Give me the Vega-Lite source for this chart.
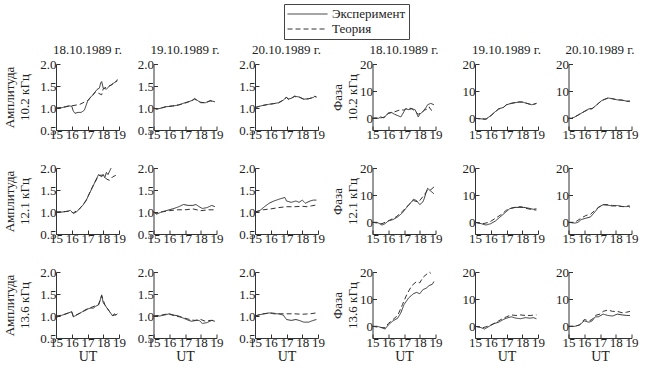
{
"$schema":"https://vega.github.io/schema/vega-lite/v6.json",
"background":"white",
"padding":{"left":3,"top":3,"right":2,"bottom":0},
"config":{
 "font":"Liberation Serif",
 "view":{"stroke":null},
 "axis":{"grid":false,"domainColor":"#333","tickColor":"#333","tickSize":-4,"labelFont":"Liberation Serif","titleFont":"Liberation Serif","labelFontSize":13,"labelColor":"#222","labelPadding":3,"labelOverlap":false,"labelFlush":false,"titleFontSize":13,"titleFontWeight":"normal","titleColor":"#222"},
 "axisY":{"minExtent":21,"labelPadding":4,"titlePadding":4},
 "axisX":{"labelPadding":2,"titlePadding":0,"titleFontSize":14},
 "title":{"font":"Liberation Serif","fontSize":13,"fontWeight":"normal","offset":1,"color":"#222"},
 "concat":{"spacing":6.5},
 "legend":{"strokeColor":"#444","padding":3,"symbolType":"stroke","symbolSize":1600,"clipHeight":14,"symbolStrokeColor":"#333","symbolStrokeWidth":1,"labelFont":"Liberation Serif","labelFontSize":13,"labelOffset":4,"rowPadding":1,"labelColor":"#222"},
 "line":{"strokeWidth":1,"color":"#333"}
},
"resolve":{"scale":{"strokeDash":"shared"},"legend":{"strokeDash":"shared"}},
"datasets":{
"a102_18":[
{"s":"Эксперимент","t":15,"v":1.0},{"s":"Эксперимент","t":15.2,"v":0.99},{"s":"Эксперимент","t":15.4,"v":1.01},{"s":"Эксперимент","t":15.6,"v":1.03},{"s":"Эксперимент","t":15.8,"v":1.05},{"s":"Эксперимент","t":16.0,"v":1.04},{"s":"Эксперимент","t":16.1,"v":0.93},{"s":"Эксперимент","t":16.2,"v":0.88},{"s":"Эксперимент","t":16.4,"v":0.9},{"s":"Эксперимент","t":16.6,"v":0.9},{"s":"Эксперимент","t":16.8,"v":0.95},{"s":"Эксперимент","t":16.9,"v":1.05},{"s":"Эксперимент","t":17.0,"v":1.15},{"s":"Эксперимент","t":17.2,"v":1.25},{"s":"Эксперимент","t":17.4,"v":1.32},{"s":"Эксперимент","t":17.6,"v":1.42},{"s":"Эксперимент","t":17.75,"v":1.45},{"s":"Эксперимент","t":17.85,"v":1.58},{"s":"Эксперимент","t":17.9,"v":1.6},{"s":"Эксперимент","t":18.0,"v":1.45},{"s":"Эксперимент","t":18.2,"v":1.43},{"s":"Эксперимент","t":18.4,"v":1.5},{"s":"Эксперимент","t":18.6,"v":1.55},{"s":"Эксперимент","t":18.8,"v":1.6},{"s":"Эксперимент","t":18.9,"v":1.65},
{"s":"Теория","t":15,"v":1.0},{"s":"Теория","t":15.5,"v":1.02},{"s":"Теория","t":16.0,"v":1.05},{"s":"Теория","t":16.5,"v":1.08},{"s":"Теория","t":17.0,"v":1.17},{"s":"Теория","t":17.3,"v":1.27},{"s":"Теория","t":17.5,"v":1.37},{"s":"Теория","t":17.9,"v":1.3},{"s":"Теория","t":18.0,"v":1.44},{"s":"Теория","t":18.5,"v":1.52},{"s":"Теория","t":18.9,"v":1.62}],
"a102_19":[
{"s":"Эксперимент","t":15,"v":1.0},{"s":"Эксперимент","t":15.2,"v":0.97},{"s":"Эксперимент","t":15.5,"v":1.0},{"s":"Эксперимент","t":15.8,"v":1.03},{"s":"Эксперимент","t":16.2,"v":1.04},{"s":"Эксперимент","t":16.6,"v":1.07},{"s":"Эксперимент","t":17.0,"v":1.12},{"s":"Эксперимент","t":17.3,"v":1.15},{"s":"Эксперимент","t":17.5,"v":1.18},{"s":"Эксперимент","t":17.6,"v":1.22},{"s":"Эксперимент","t":17.8,"v":1.17},{"s":"Эксперимент","t":18.0,"v":1.12},{"s":"Эксперимент","t":18.3,"v":1.12},{"s":"Эксперимент","t":18.6,"v":1.17},{"s":"Эксперимент","t":18.9,"v":1.14},
{"s":"Теория","t":15,"v":1.0},{"s":"Теория","t":15.2,"v":0.98},{"s":"Теория","t":15.5,"v":1.0},{"s":"Теория","t":15.8,"v":1.03},{"s":"Теория","t":16.2,"v":1.05},{"s":"Теория","t":16.6,"v":1.07},{"s":"Теория","t":17.0,"v":1.11},{"s":"Теория","t":17.3,"v":1.15},{"s":"Теория","t":17.5,"v":1.18},{"s":"Теория","t":17.6,"v":1.2},{"s":"Теория","t":17.8,"v":1.17},{"s":"Теория","t":18.0,"v":1.13},{"s":"Теория","t":18.3,"v":1.12},{"s":"Теория","t":18.6,"v":1.16},{"s":"Теория","t":18.9,"v":1.14}],
"a102_20":[
{"s":"Эксперимент","t":15,"v":1.0},{"s":"Эксперимент","t":15.1,"v":1.02},{"s":"Эксперимент","t":15.4,"v":1.05},{"s":"Эксперимент","t":15.8,"v":1.08},{"s":"Эксперимент","t":16.2,"v":1.1},{"s":"Эксперимент","t":16.5,"v":1.12},{"s":"Эксперимент","t":16.8,"v":1.18},{"s":"Эксперимент","t":17.0,"v":1.25},{"s":"Эксперимент","t":17.1,"v":1.2},{"s":"Эксперимент","t":17.3,"v":1.22},{"s":"Эксперимент","t":17.5,"v":1.27},{"s":"Эксперимент","t":17.8,"v":1.25},{"s":"Эксперимент","t":18.1,"v":1.2},{"s":"Эксперимент","t":18.4,"v":1.21},{"s":"Эксперимент","t":18.7,"v":1.24},{"s":"Эксперимент","t":18.8,"v":1.27},{"s":"Эксперимент","t":18.9,"v":1.25},
{"s":"Теория","t":15,"v":1.0},{"s":"Теория","t":15.1,"v":1.02},{"s":"Теория","t":15.4,"v":1.05},{"s":"Теория","t":15.8,"v":1.08},{"s":"Теория","t":16.2,"v":1.1},{"s":"Теория","t":16.5,"v":1.12},{"s":"Теория","t":16.8,"v":1.18},{"s":"Теория","t":17.0,"v":1.24},{"s":"Теория","t":17.1,"v":1.2},{"s":"Теория","t":17.3,"v":1.22},{"s":"Теория","t":17.5,"v":1.26},{"s":"Теория","t":17.8,"v":1.25},{"s":"Теория","t":18.1,"v":1.2},{"s":"Теория","t":18.4,"v":1.21},{"s":"Теория","t":18.7,"v":1.24},{"s":"Теория","t":18.8,"v":1.26},{"s":"Теория","t":18.9,"v":1.25}],
"a121_18":[
{"s":"Эксперимент","t":15,"v":1.0},{"s":"Эксперимент","t":15.4,"v":1.0},{"s":"Эксперимент","t":15.8,"v":1.02},{"s":"Эксперимент","t":15.9,"v":1.04},{"s":"Эксперимент","t":16.1,"v":0.97},{"s":"Эксперимент","t":16.3,"v":1.0},{"s":"Эксперимент","t":16.5,"v":1.08},{"s":"Эксперимент","t":16.7,"v":1.15},{"s":"Эксперимент","t":16.9,"v":1.25},{"s":"Эксперимент","t":17.1,"v":1.4},{"s":"Эксперимент","t":17.3,"v":1.55},{"s":"Эксперимент","t":17.5,"v":1.7},{"s":"Эксперимент","t":17.7,"v":1.85},{"s":"Эксперимент","t":17.9,"v":1.8},{"s":"Эксперимент","t":18.0,"v":1.85},{"s":"Эксперимент","t":18.1,"v":1.78},{"s":"Эксперимент","t":18.2,"v":1.9},{"s":"Эксперимент","t":18.3,"v":1.85},{"s":"Эксперимент","t":18.5,"v":2.0},
{"s":"Теория","t":15,"v":1.0},{"s":"Теория","t":15.4,"v":1.0},{"s":"Теория","t":15.8,"v":1.02},{"s":"Теория","t":16.1,"v":0.98},{"s":"Теория","t":16.5,"v":1.07},{"s":"Теория","t":16.9,"v":1.26},{"s":"Теория","t":17.3,"v":1.56},{"s":"Теория","t":17.7,"v":1.83},{"s":"Теория","t":18.0,"v":1.84},{"s":"Теория","t":18.2,"v":1.75},{"s":"Теория","t":18.4,"v":1.72},{"s":"Теория","t":18.6,"v":1.8},{"s":"Теория","t":18.9,"v":1.85}],
"a121_19":[
{"s":"Эксперимент","t":15,"v":1.0},{"s":"Эксперимент","t":15.2,"v":0.95},{"s":"Эксперимент","t":15.5,"v":1.0},{"s":"Эксперимент","t":15.7,"v":1.02},{"s":"Эксперимент","t":16.0,"v":1.05},{"s":"Эксперимент","t":16.3,"v":1.08},{"s":"Эксперимент","t":16.6,"v":1.12},{"s":"Эксперимент","t":16.9,"v":1.17},{"s":"Эксперимент","t":17.2,"v":1.15},{"s":"Эксперимент","t":17.5,"v":1.15},{"s":"Эксперимент","t":17.7,"v":1.17},{"s":"Эксперимент","t":17.9,"v":1.12},{"s":"Эксперимент","t":18.1,"v":1.08},{"s":"Эксперимент","t":18.4,"v":1.1},{"s":"Эксперимент","t":18.7,"v":1.15},{"s":"Эксперимент","t":18.9,"v":1.12},
{"s":"Теория","t":15,"v":1.0},{"s":"Теория","t":15.2,"v":0.97},{"s":"Теория","t":15.5,"v":1.0},{"s":"Теория","t":16.0,"v":1.03},{"s":"Теория","t":16.5,"v":1.05},{"s":"Теория","t":17.0,"v":1.05},{"s":"Теория","t":17.5,"v":1.07},{"s":"Теория","t":18.0,"v":1.03},{"s":"Теория","t":18.5,"v":1.05},{"s":"Теория","t":18.9,"v":1.05}],
"a121_20":[
{"s":"Эксперимент","t":15,"v":1.0},{"s":"Эксперимент","t":15.3,"v":1.03},{"s":"Эксперимент","t":15.6,"v":1.12},{"s":"Эксперимент","t":15.9,"v":1.2},{"s":"Эксперимент","t":16.2,"v":1.25},{"s":"Эксперимент","t":16.6,"v":1.3},{"s":"Эксперимент","t":16.9,"v":1.33},{"s":"Эксперимент","t":17.0,"v":1.25},{"s":"Эксперимент","t":17.3,"v":1.22},{"s":"Эксперимент","t":17.6,"v":1.25},{"s":"Эксперимент","t":17.8,"v":1.22},{"s":"Эксперимент","t":18.0,"v":1.27},{"s":"Эксперимент","t":18.2,"v":1.2},{"s":"Эксперимент","t":18.5,"v":1.25},{"s":"Эксперимент","t":18.7,"v":1.27},{"s":"Эксперимент","t":18.9,"v":1.27},
{"s":"Теория","t":15,"v":1.0},{"s":"Теория","t":15.5,"v":1.05},{"s":"Теория","t":16.0,"v":1.07},{"s":"Теория","t":16.5,"v":1.1},{"s":"Теория","t":17.0,"v":1.12},{"s":"Теория","t":17.5,"v":1.12},{"s":"Теория","t":18.0,"v":1.13},{"s":"Теория","t":18.3,"v":1.12},{"s":"Теория","t":18.6,"v":1.14},{"s":"Теория","t":18.9,"v":1.16}],
"a136_18":[
{"s":"Эксперимент","t":15,"v":1.0},{"s":"Эксперимент","t":15.1,"v":0.98},{"s":"Эксперимент","t":15.4,"v":1.02},{"s":"Эксперимент","t":15.8,"v":1.07},{"s":"Эксперимент","t":16.0,"v":1.1},{"s":"Эксперимент","t":16.1,"v":0.98},{"s":"Эксперимент","t":16.3,"v":1.02},{"s":"Эксперимент","t":16.6,"v":1.08},{"s":"Эксперимент","t":16.9,"v":1.15},{"s":"Эксперимент","t":17.2,"v":1.18},{"s":"Эксперимент","t":17.4,"v":1.18},{"s":"Эксперимент","t":17.5,"v":1.22},{"s":"Эксперимент","t":17.7,"v":1.25},{"s":"Эксперимент","t":17.8,"v":1.35},{"s":"Эксперимент","t":17.9,"v":1.48},{"s":"Эксперимент","t":18.0,"v":1.3},{"s":"Эксперимент","t":18.1,"v":1.25},{"s":"Эксперимент","t":18.2,"v":1.2},{"s":"Эксперимент","t":18.4,"v":1.1},{"s":"Эксперимент","t":18.5,"v":1.05},{"s":"Эксперимент","t":18.6,"v":1.0},{"s":"Эксперимент","t":18.7,"v":1.05},{"s":"Эксперимент","t":18.8,"v":1.02},{"s":"Эксперимент","t":18.9,"v":1.05},
{"s":"Теория","t":15,"v":1.0},{"s":"Теория","t":15.4,"v":1.02},{"s":"Теория","t":15.8,"v":1.07},{"s":"Теория","t":16.0,"v":1.09},{"s":"Теория","t":16.1,"v":0.99},{"s":"Теория","t":16.6,"v":1.08},{"s":"Теория","t":17.2,"v":1.19},{"s":"Теория","t":17.7,"v":1.26},{"s":"Теория","t":17.9,"v":1.46},{"s":"Теория","t":18.1,"v":1.26},{"s":"Теория","t":18.4,"v":1.1},{"s":"Теория","t":18.6,"v":1.01},{"s":"Теория","t":18.9,"v":1.04}],
"a136_19":[
{"s":"Эксперимент","t":15,"v":1.0},{"s":"Эксперимент","t":15.4,"v":1.0},{"s":"Эксперимент","t":15.8,"v":1.03},{"s":"Эксперимент","t":16.0,"v":1.05},{"s":"Эксперимент","t":16.3,"v":1.02},{"s":"Эксперимент","t":16.6,"v":1.0},{"s":"Эксперимент","t":16.9,"v":0.95},{"s":"Эксперимент","t":17.1,"v":0.92},{"s":"Эксперимент","t":17.4,"v":0.88},{"s":"Эксперимент","t":17.7,"v":0.9},{"s":"Эксперимент","t":17.9,"v":0.9},{"s":"Эксперимент","t":18.1,"v":0.83},{"s":"Эксперимент","t":18.4,"v":0.85},{"s":"Эксперимент","t":18.7,"v":0.9},{"s":"Эксперимент","t":18.9,"v":0.88},
{"s":"Теория","t":15,"v":1.0},{"s":"Теория","t":15.5,"v":1.02},{"s":"Теория","t":15.9,"v":1.05},{"s":"Теория","t":16.4,"v":1.0},{"s":"Теория","t":16.8,"v":0.97},{"s":"Теория","t":17.2,"v":0.93},{"s":"Теория","t":17.6,"v":0.9},{"s":"Теория","t":18.0,"v":0.92},{"s":"Теория","t":18.3,"v":0.88},{"s":"Теория","t":18.6,"v":0.9},{"s":"Теория","t":18.9,"v":0.9}],
"a136_20":[
{"s":"Эксперимент","t":15,"v":1.0},{"s":"Эксперимент","t":15.3,"v":1.03},{"s":"Эксперимент","t":15.6,"v":1.05},{"s":"Эксперимент","t":15.9,"v":1.07},{"s":"Эксперимент","t":16.2,"v":1.05},{"s":"Эксперимент","t":16.5,"v":1.05},{"s":"Эксперимент","t":16.8,"v":1.02},{"s":"Эксперимент","t":17.0,"v":0.92},{"s":"Эксперимент","t":17.3,"v":0.9},{"s":"Эксперимент","t":17.6,"v":0.92},{"s":"Эксперимент","t":17.8,"v":0.9},{"s":"Эксперимент","t":18.1,"v":0.86},{"s":"Эксперимент","t":18.4,"v":0.86},{"s":"Эксперимент","t":18.7,"v":0.9},{"s":"Эксперимент","t":18.9,"v":0.92},
{"s":"Теория","t":15,"v":1.0},{"s":"Теория","t":15.5,"v":1.05},{"s":"Теория","t":16.0,"v":1.07},{"s":"Теория","t":16.5,"v":1.05},{"s":"Теория","t":17.0,"v":1.05},{"s":"Теория","t":17.5,"v":1.05},{"s":"Теория","t":18.0,"v":1.04},{"s":"Теория","t":18.5,"v":1.05},{"s":"Теория","t":18.9,"v":1.07}],
"p102_18":[
{"s":"Эксперимент","t":15,"v":0},{"s":"Эксперимент","t":15.2,"v":0.2},{"s":"Эксперимент","t":15.4,"v":0},{"s":"Эксперимент","t":15.5,"v":0.5},{"s":"Эксперимент","t":15.7,"v":0.2},{"s":"Эксперимент","t":15.9,"v":1.2},{"s":"Эксперимент","t":16.0,"v":2.0},{"s":"Эксперимент","t":16.2,"v":2.2},{"s":"Эксперимент","t":16.4,"v":1.5},{"s":"Эксперимент","t":16.6,"v":1.0},{"s":"Эксперимент","t":16.8,"v":0.5},{"s":"Эксперимент","t":17.0,"v":2.5},{"s":"Эксперимент","t":17.1,"v":3.5},{"s":"Эксперимент","t":17.3,"v":3.2},{"s":"Эксперимент","t":17.5,"v":3.5},{"s":"Эксперимент","t":17.7,"v":3.2},{"s":"Эксперимент","t":17.8,"v":2.0},{"s":"Эксперимент","t":17.9,"v":0.5},{"s":"Эксперимент","t":18.0,"v":1.5},{"s":"Эксперимент","t":18.2,"v":2.5},{"s":"Эксперимент","t":18.4,"v":4.0},{"s":"Эксперимент","t":18.5,"v":5.0},{"s":"Эксперимент","t":18.7,"v":5.5},{"s":"Эксперимент","t":18.9,"v":5.0},
{"s":"Теория","t":15,"v":0},{"s":"Теория","t":15.4,"v":0},{"s":"Теория","t":15.8,"v":0.5},{"s":"Теория","t":16.0,"v":1.8},{"s":"Теория","t":16.3,"v":2.2},{"s":"Теория","t":16.8,"v":3.2},{"s":"Теория","t":17.0,"v":3.0},{"s":"Теория","t":17.2,"v":3.8},{"s":"Теория","t":17.5,"v":3.6},{"s":"Теория","t":17.7,"v":2.5},{"s":"Теория","t":17.9,"v":1.5},{"s":"Теория","t":18.1,"v":2.0},{"s":"Теория","t":18.3,"v":3.0},{"s":"Теория","t":18.5,"v":3.5},{"s":"Теория","t":18.6,"v":4.2},{"s":"Теория","t":18.7,"v":3.2},{"s":"Теория","t":18.8,"v":2.8}],
"p102_19":[
{"s":"Эксперимент","t":15,"v":0},{"s":"Эксперимент","t":15.4,"v":-0.2},{"s":"Эксперимент","t":15.7,"v":-0.3},{"s":"Эксперимент","t":16.0,"v":1},{"s":"Эксперимент","t":16.2,"v":2},{"s":"Эксперимент","t":16.5,"v":3.5},{"s":"Эксперимент","t":16.8,"v":4},{"s":"Эксперимент","t":17.0,"v":5},{"s":"Эксперимент","t":17.3,"v":5.5},{"s":"Эксперимент","t":17.6,"v":5.8},{"s":"Эксперимент","t":17.8,"v":6},{"s":"Эксперимент","t":18.0,"v":6},{"s":"Эксперимент","t":18.3,"v":5.5},{"s":"Эксперимент","t":18.6,"v":5},{"s":"Эксперимент","t":18.8,"v":5.3},{"s":"Эксперимент","t":18.9,"v":5.5},
{"s":"Теория","t":15,"v":0},{"s":"Теория","t":15.4,"v":-0.2},{"s":"Теория","t":15.7,"v":-0.3},{"s":"Теория","t":16.0,"v":0.9},{"s":"Теория","t":16.2,"v":2},{"s":"Теория","t":16.5,"v":3.4},{"s":"Теория","t":16.8,"v":4},{"s":"Теория","t":17.0,"v":5},{"s":"Теория","t":17.3,"v":5.5},{"s":"Теория","t":17.6,"v":5.9},{"s":"Теория","t":17.8,"v":6},{"s":"Теория","t":18.0,"v":6},{"s":"Теория","t":18.3,"v":5.5},{"s":"Теория","t":18.6,"v":5},{"s":"Теория","t":18.8,"v":5.3},{"s":"Теория","t":18.9,"v":5.5}],
"p102_20":[
{"s":"Эксперимент","t":15,"v":0},{"s":"Эксперимент","t":15.2,"v":0},{"s":"Эксперимент","t":15.4,"v":0.5},{"s":"Эксперимент","t":15.7,"v":1.5},{"s":"Эксперимент","t":16.0,"v":2.5},{"s":"Эксперимент","t":16.3,"v":3.5},{"s":"Эксперимент","t":16.5,"v":3.5},{"s":"Эксперимент","t":16.7,"v":4.5},{"s":"Эксперимент","t":16.9,"v":5.5},{"s":"Эксперимент","t":17.1,"v":6.5},{"s":"Эксперимент","t":17.3,"v":7},{"s":"Эксперимент","t":17.5,"v":7.5},{"s":"Эксперимент","t":17.8,"v":7.2},{"s":"Эксперимент","t":18.1,"v":6.8},{"s":"Эксперимент","t":18.4,"v":6.7},{"s":"Эксперимент","t":18.7,"v":6.3},{"s":"Эксперимент","t":18.9,"v":6.3},
{"s":"Теория","t":15,"v":0},{"s":"Теория","t":15.2,"v":0},{"s":"Теория","t":15.4,"v":0.5},{"s":"Теория","t":15.7,"v":1.5},{"s":"Теория","t":16.0,"v":2.5},{"s":"Теория","t":16.3,"v":3.4},{"s":"Теория","t":16.5,"v":3.6},{"s":"Теория","t":16.7,"v":4.5},{"s":"Теория","t":16.9,"v":5.5},{"s":"Теория","t":17.1,"v":6.5},{"s":"Теория","t":17.3,"v":7},{"s":"Теория","t":17.5,"v":7.4},{"s":"Теория","t":17.8,"v":7.2},{"s":"Теория","t":18.1,"v":6.8},{"s":"Теория","t":18.4,"v":6.7},{"s":"Теория","t":18.7,"v":6.3},{"s":"Теория","t":18.9,"v":6.3}],
"p121_18":[
{"s":"Эксперимент","t":15,"v":0},{"s":"Эксперимент","t":15.3,"v":0},{"s":"Эксперимент","t":15.6,"v":-1},{"s":"Эксперимент","t":15.8,"v":-0.5},{"s":"Эксперимент","t":16.0,"v":0.5},{"s":"Эксперимент","t":16.3,"v":1},{"s":"Эксперимент","t":16.6,"v":2},{"s":"Эксперимент","t":16.9,"v":3.5},{"s":"Эксперимент","t":17.1,"v":5},{"s":"Эксперимент","t":17.4,"v":7},{"s":"Эксперимент","t":17.6,"v":8.5},{"s":"Эксперимент","t":17.8,"v":8},{"s":"Эксперимент","t":18.0,"v":6.5},{"s":"Эксперимент","t":18.2,"v":7.5},{"s":"Эксперимент","t":18.3,"v":9},{"s":"Эксперимент","t":18.4,"v":11},{"s":"Эксперимент","t":18.5,"v":12.5},{"s":"Эксперимент","t":18.7,"v":11.5},{"s":"Эксперимент","t":18.9,"v":10.5},
{"s":"Теория","t":15,"v":0},{"s":"Теория","t":15.6,"v":-0.5},{"s":"Теория","t":16.0,"v":0.5},{"s":"Теория","t":16.5,"v":2},{"s":"Теория","t":16.9,"v":4},{"s":"Теория","t":17.3,"v":6.5},{"s":"Теория","t":17.6,"v":8},{"s":"Теория","t":17.9,"v":7.5},{"s":"Теория","t":18.0,"v":8},{"s":"Теория","t":18.2,"v":9.5},{"s":"Теория","t":18.4,"v":11},{"s":"Теория","t":18.5,"v":12},{"s":"Теория","t":18.7,"v":12},{"s":"Теория","t":18.9,"v":13}],
"p121_19":[
{"s":"Эксперимент","t":15,"v":0},{"s":"Эксперимент","t":15.4,"v":-0.5},{"s":"Эксперимент","t":15.7,"v":-1},{"s":"Эксперимент","t":16.0,"v":-0.5},{"s":"Эксперимент","t":16.3,"v":0.5},{"s":"Эксперимент","t":16.6,"v":2},{"s":"Эксперимент","t":16.9,"v":3.5},{"s":"Эксперимент","t":17.2,"v":5},{"s":"Эксперимент","t":17.5,"v":5.5},{"s":"Эксперимент","t":17.8,"v":5.5},{"s":"Эксперимент","t":18.1,"v":5.5},{"s":"Эксперимент","t":18.4,"v":5.2},{"s":"Эксперимент","t":18.7,"v":4.8},{"s":"Эксперимент","t":18.9,"v":5},
{"s":"Теория","t":15,"v":0},{"s":"Теория","t":15.5,"v":-0.5},{"s":"Теория","t":15.9,"v":0},{"s":"Теория","t":16.3,"v":1.5},{"s":"Теория","t":16.7,"v":3},{"s":"Теория","t":17.0,"v":4.5},{"s":"Теория","t":17.3,"v":5.2},{"s":"Теория","t":17.6,"v":5.5},{"s":"Теория","t":17.9,"v":5.8},{"s":"Теория","t":18.2,"v":5.2},{"s":"Теория","t":18.5,"v":4.8},{"s":"Теория","t":18.9,"v":4.5}],
"p121_20":[
{"s":"Эксперимент","t":15,"v":0},{"s":"Эксперимент","t":15.4,"v":-0.3},{"s":"Эксперимент","t":15.6,"v":0},{"s":"Эксперимент","t":15.8,"v":1},{"s":"Эксперимент","t":16.1,"v":1.5},{"s":"Эксперимент","t":16.4,"v":2},{"s":"Эксперимент","t":16.7,"v":4},{"s":"Эксперимент","t":16.9,"v":5.5},{"s":"Эксперимент","t":17.2,"v":6.5},{"s":"Эксперимент","t":17.5,"v":6.3},{"s":"Эксперимент","t":17.8,"v":6},{"s":"Эксперимент","t":18.1,"v":6.2},{"s":"Эксперимент","t":18.4,"v":5.8},{"s":"Эксперимент","t":18.7,"v":5.8},{"s":"Эксперимент","t":18.8,"v":6},{"s":"Эксперимент","t":18.9,"v":5.5},
{"s":"Теория","t":15,"v":0},{"s":"Теория","t":15.4,"v":0},{"s":"Теория","t":15.8,"v":1.5},{"s":"Теория","t":16.1,"v":2.5},{"s":"Теория","t":16.4,"v":3},{"s":"Теория","t":16.7,"v":4.5},{"s":"Теория","t":16.9,"v":5.5},{"s":"Теория","t":17.2,"v":6.5},{"s":"Теория","t":17.5,"v":6.5},{"s":"Теория","t":17.8,"v":6.2},{"s":"Теория","t":18.1,"v":6},{"s":"Теория","t":18.5,"v":5.8},{"s":"Теория","t":18.9,"v":6}],
"p136_18":[
{"s":"Эксперимент","t":15,"v":0},{"s":"Эксперимент","t":15.3,"v":0},{"s":"Эксперимент","t":15.6,"v":-0.5},{"s":"Эксперимент","t":15.8,"v":-1},{"s":"Эксперимент","t":16.0,"v":0.5},{"s":"Эксперимент","t":16.3,"v":2},{"s":"Эксперимент","t":16.6,"v":3},{"s":"Эксперимент","t":16.8,"v":5},{"s":"Эксперимент","t":17.0,"v":8},{"s":"Эксперимент","t":17.3,"v":10.5},{"s":"Эксперимент","t":17.6,"v":12},{"s":"Эксперимент","t":17.8,"v":12.5},{"s":"Эксперимент","t":18.0,"v":12},{"s":"Эксперимент","t":18.2,"v":13.5},{"s":"Эксперимент","t":18.4,"v":14},{"s":"Эксперимент","t":18.6,"v":15},{"s":"Эксперимент","t":18.8,"v":15.5},{"s":"Эксперимент","t":18.9,"v":16.5},
{"s":"Теория","t":15,"v":0},{"s":"Теория","t":15.6,"v":-0.5},{"s":"Теория","t":15.8,"v":-0.5},{"s":"Теория","t":16.0,"v":1},{"s":"Теория","t":16.3,"v":2.5},{"s":"Теория","t":16.6,"v":4},{"s":"Теория","t":16.9,"v":8},{"s":"Теория","t":17.2,"v":12},{"s":"Теория","t":17.5,"v":15},{"s":"Теория","t":17.8,"v":16.5},{"s":"Теория","t":18.0,"v":16},{"s":"Теория","t":18.2,"v":18},{"s":"Теория","t":18.4,"v":19},{"s":"Теория","t":18.6,"v":20},{"s":"Теория","t":18.7,"v":19.5}],
"p136_19":[
{"s":"Эксперимент","t":15,"v":0},{"s":"Эксперимент","t":15.3,"v":-0.3},{"s":"Эксперимент","t":15.6,"v":-1},{"s":"Эксперимент","t":15.9,"v":0},{"s":"Эксперимент","t":16.2,"v":1},{"s":"Эксперимент","t":16.5,"v":1.5},{"s":"Эксперимент","t":16.8,"v":2.5},{"s":"Эксперимент","t":17.0,"v":3},{"s":"Эксперимент","t":17.3,"v":3.5},{"s":"Эксперимент","t":17.6,"v":3},{"s":"Эксперимент","t":17.9,"v":2.8},{"s":"Эксперимент","t":18.2,"v":3.2},{"s":"Эксперимент","t":18.5,"v":3},{"s":"Эксперимент","t":18.7,"v":3.2},{"s":"Эксперимент","t":18.9,"v":2.8},
{"s":"Теория","t":15,"v":0},{"s":"Теория","t":15.5,"v":-0.5},{"s":"Теория","t":15.8,"v":0},{"s":"Теория","t":16.2,"v":1},{"s":"Теория","t":16.5,"v":2},{"s":"Теория","t":16.8,"v":3},{"s":"Теория","t":17.0,"v":3.5},{"s":"Теория","t":17.3,"v":4.2},{"s":"Теория","t":17.6,"v":4},{"s":"Теория","t":17.9,"v":4.2},{"s":"Теория","t":18.2,"v":4},{"s":"Теория","t":18.5,"v":4},{"s":"Теория","t":18.9,"v":4.2}],
"p136_20":[
{"s":"Эксперимент","t":15,"v":0},{"s":"Эксперимент","t":15.4,"v":0},{"s":"Эксперимент","t":15.7,"v":0.5},{"s":"Эксперимент","t":16.0,"v":2},{"s":"Эксперимент","t":16.3,"v":1.5},{"s":"Эксперимент","t":16.5,"v":2},{"s":"Эксперимент","t":16.7,"v":3.5},{"s":"Эксперимент","t":16.9,"v":3.5},{"s":"Эксперимент","t":17.2,"v":4.5},{"s":"Эксперимент","t":17.5,"v":4},{"s":"Эксперимент","t":17.8,"v":3.8},{"s":"Эксперимент","t":18.1,"v":4.5},{"s":"Эксперимент","t":18.4,"v":4.2},{"s":"Эксперимент","t":18.7,"v":4},{"s":"Эксперимент","t":18.9,"v":4},
{"s":"Теория","t":15,"v":0},{"s":"Теория","t":15.4,"v":0},{"s":"Теория","t":15.7,"v":0.5},{"s":"Теория","t":16.0,"v":2.5},{"s":"Теория","t":16.3,"v":2},{"s":"Теория","t":16.5,"v":2.5},{"s":"Теория","t":16.7,"v":4},{"s":"Теория","t":17.0,"v":4.5},{"s":"Теория","t":17.2,"v":5.5},{"s":"Теория","t":17.5,"v":6},{"s":"Теория","t":17.8,"v":5.5},{"s":"Теория","t":18.1,"v":5.5},{"s":"Теория","t":18.4,"v":5},{"s":"Теория","t":18.7,"v":5.2},{"s":"Теория","t":18.9,"v":5.5}]
},
"hconcat":[
{"spacing":21,"vconcat":[
 {"title":"18.10.1989 г.","width":63,"height":66,"data":{"name":"a102_18"},"mark":"line","encoding":{"x":{"field":"t","type":"quantitative","scale":{"domain":[15,19],"nice":false,"zero":false},"axis":{"values":[15,16,17,18,19],"title":null}},"y":{"field":"v","type":"quantitative","scale":{"domain":[0.5,2],"nice":false,"zero":false},"axis":{"values":[0.5,1,1.5,2],"format":".1f","title":["Амплитуда","10.2 кГц"]}},"strokeDash":{"field":"s","type":"nominal","scale":{"domain":["Эксперимент","Теория"],"range":[[1,0],[5,3]]},"legend":{"orient":"none","legendX":228,"legendY":-60,"title":null}}}},
 {"width":63,"height":66,"data":{"name":"a121_18"},"mark":"line","encoding":{"x":{"field":"t","type":"quantitative","scale":{"domain":[15,19],"nice":false,"zero":false},"axis":{"values":[15,16,17,18,19],"title":null}},"y":{"field":"v","type":"quantitative","scale":{"domain":[0.5,2],"nice":false,"zero":false},"axis":{"values":[0.5,1,1.5,2],"format":".1f","title":["Амплитуда","12.1 кГц"]}},"strokeDash":{"field":"s","type":"nominal","scale":{"domain":["Эксперимент","Теория"],"range":[[1,0],[5,3]]},"legend":{"orient":"none","legendX":228,"legendY":-60,"title":null}}}},
 {"width":63,"height":66,"data":{"name":"a136_18"},"mark":"line","encoding":{"x":{"field":"t","type":"quantitative","scale":{"domain":[15,19],"nice":false,"zero":false},"axis":{"values":[15,16,17,18,19],"title":"UT"}},"y":{"field":"v","type":"quantitative","scale":{"domain":[0.5,2],"nice":false,"zero":false},"axis":{"values":[0.5,1,1.5,2],"format":".1f","title":["Амплитуда","13.6 кГц"]}},"strokeDash":{"field":"s","type":"nominal","scale":{"domain":["Эксперимент","Теория"],"range":[[1,0],[5,3]]},"legend":{"orient":"none","legendX":228,"legendY":-60,"title":null}}}}
]},
{"spacing":21,"vconcat":[
 {"title":"19.10.1989 г.","width":63,"height":66,"data":{"name":"a102_19"},"mark":"line","encoding":{"x":{"field":"t","type":"quantitative","scale":{"domain":[15,19],"nice":false,"zero":false},"axis":{"values":[15,16,17,18,19],"title":null}},"y":{"field":"v","type":"quantitative","scale":{"domain":[0.5,2],"nice":false,"zero":false},"axis":{"values":[0.5,1,1.5,2],"format":".1f","title":null}},"strokeDash":{"field":"s","type":"nominal","scale":{"domain":["Эксперимент","Теория"],"range":[[1,0],[5,3]]},"legend":{"orient":"none","legendX":228,"legendY":-60,"title":null}}}},
 {"width":63,"height":66,"data":{"name":"a121_19"},"mark":"line","encoding":{"x":{"field":"t","type":"quantitative","scale":{"domain":[15,19],"nice":false,"zero":false},"axis":{"values":[15,16,17,18,19],"title":null}},"y":{"field":"v","type":"quantitative","scale":{"domain":[0.5,2],"nice":false,"zero":false},"axis":{"values":[0.5,1,1.5,2],"format":".1f","title":null}},"strokeDash":{"field":"s","type":"nominal","scale":{"domain":["Эксперимент","Теория"],"range":[[1,0],[5,3]]},"legend":{"orient":"none","legendX":228,"legendY":-60,"title":null}}}},
 {"width":63,"height":66,"data":{"name":"a136_19"},"mark":"line","encoding":{"x":{"field":"t","type":"quantitative","scale":{"domain":[15,19],"nice":false,"zero":false},"axis":{"values":[15,16,17,18,19],"title":"UT"}},"y":{"field":"v","type":"quantitative","scale":{"domain":[0.5,2],"nice":false,"zero":false},"axis":{"values":[0.5,1,1.5,2],"format":".1f","title":null}},"strokeDash":{"field":"s","type":"nominal","scale":{"domain":["Эксперимент","Теория"],"range":[[1,0],[5,3]]},"legend":{"orient":"none","legendX":228,"legendY":-60,"title":null}}}}
]},
{"spacing":21,"vconcat":[
 {"title":"20.10.1989 г.","width":63,"height":66,"data":{"name":"a102_20"},"mark":"line","encoding":{"x":{"field":"t","type":"quantitative","scale":{"domain":[15,19],"nice":false,"zero":false},"axis":{"values":[15,16,17,18,19],"title":null}},"y":{"field":"v","type":"quantitative","scale":{"domain":[0.5,2],"nice":false,"zero":false},"axis":{"values":[0.5,1,1.5,2],"format":".1f","minExtent":25,"title":null}},"strokeDash":{"field":"s","type":"nominal","scale":{"domain":["Эксперимент","Теория"],"range":[[1,0],[5,3]]},"legend":{"orient":"none","legendX":228,"legendY":-60,"title":null}}}},
 {"width":63,"height":66,"data":{"name":"a121_20"},"mark":"line","encoding":{"x":{"field":"t","type":"quantitative","scale":{"domain":[15,19],"nice":false,"zero":false},"axis":{"values":[15,16,17,18,19],"title":null}},"y":{"field":"v","type":"quantitative","scale":{"domain":[0.5,2],"nice":false,"zero":false},"axis":{"values":[0.5,1,1.5,2],"format":".1f","minExtent":25,"title":null}},"strokeDash":{"field":"s","type":"nominal","scale":{"domain":["Эксперимент","Теория"],"range":[[1,0],[5,3]]},"legend":{"orient":"none","legendX":228,"legendY":-60,"title":null}}}},
 {"width":63,"height":66,"data":{"name":"a136_20"},"mark":"line","encoding":{"x":{"field":"t","type":"quantitative","scale":{"domain":[15,19],"nice":false,"zero":false},"axis":{"values":[15,16,17,18,19],"title":"UT"}},"y":{"field":"v","type":"quantitative","scale":{"domain":[0.5,2],"nice":false,"zero":false},"axis":{"values":[0.5,1,1.5,2],"format":".1f","minExtent":25,"title":null}},"strokeDash":{"field":"s","type":"nominal","scale":{"domain":["Эксперимент","Теория"],"range":[[1,0],[5,3]]},"legend":{"orient":"none","legendX":228,"legendY":-60,"title":null}}}}
]},
{"spacing":21,"vconcat":[
 {"title":"18.10.1989 г.","width":63,"height":66,"data":{"name":"p102_18"},"mark":"line","encoding":{"x":{"field":"t","type":"quantitative","scale":{"domain":[15,19],"nice":false,"zero":false},"axis":{"values":[15,16,17,18,19],"title":null}},"y":{"field":"v","type":"quantitative","scale":{"domain":[-4.3,20],"nice":false,"zero":false},"axis":{"values":[0,10,20],"minExtent":13,"titlePadding":0,"title":["Фаза","10.2 кГц"]}},"strokeDash":{"field":"s","type":"nominal","scale":{"domain":["Эксперимент","Теория"],"range":[[1,0],[5,3]]},"legend":{"orient":"none","legendX":228,"legendY":-60,"title":null}}}},
 {"width":63,"height":66,"data":{"name":"p121_18"},"mark":"line","encoding":{"x":{"field":"t","type":"quantitative","scale":{"domain":[15,19],"nice":false,"zero":false},"axis":{"values":[15,16,17,18,19],"title":null}},"y":{"field":"v","type":"quantitative","scale":{"domain":[-4.3,20],"nice":false,"zero":false},"axis":{"values":[0,10,20],"minExtent":13,"titlePadding":0,"title":["Фаза","12.1 кГц"]}},"strokeDash":{"field":"s","type":"nominal","scale":{"domain":["Эксперимент","Теория"],"range":[[1,0],[5,3]]},"legend":{"orient":"none","legendX":228,"legendY":-60,"title":null}}}},
 {"width":63,"height":66,"data":{"name":"p136_18"},"mark":"line","encoding":{"x":{"field":"t","type":"quantitative","scale":{"domain":[15,19],"nice":false,"zero":false},"axis":{"values":[15,16,17,18,19],"title":"UT"}},"y":{"field":"v","type":"quantitative","scale":{"domain":[-4.3,20],"nice":false,"zero":false},"axis":{"values":[0,10,20],"minExtent":13,"titlePadding":0,"title":["Фаза","13.6 кГц"]}},"strokeDash":{"field":"s","type":"nominal","scale":{"domain":["Эксперимент","Теория"],"range":[[1,0],[5,3]]},"legend":{"orient":"none","legendX":228,"legendY":-60,"title":null}}}}
]},
{"spacing":21,"vconcat":[
 {"title":"19.10.1989 г.","width":63,"height":66,"data":{"name":"p102_19"},"mark":"line","encoding":{"x":{"field":"t","type":"quantitative","scale":{"domain":[15,19],"nice":false,"zero":false},"axis":{"values":[15,16,17,18,19],"title":null}},"y":{"field":"v","type":"quantitative","scale":{"domain":[-4.3,20],"nice":false,"zero":false},"axis":{"values":[0,10,20],"minExtent":26,"title":null}},"strokeDash":{"field":"s","type":"nominal","scale":{"domain":["Эксперимент","Теория"],"range":[[1,0],[5,3]]},"legend":{"orient":"none","legendX":228,"legendY":-60,"title":null}}}},
 {"width":63,"height":66,"data":{"name":"p121_19"},"mark":"line","encoding":{"x":{"field":"t","type":"quantitative","scale":{"domain":[15,19],"nice":false,"zero":false},"axis":{"values":[15,16,17,18,19],"title":null}},"y":{"field":"v","type":"quantitative","scale":{"domain":[-4.3,20],"nice":false,"zero":false},"axis":{"values":[0,10,20],"minExtent":26,"title":null}},"strokeDash":{"field":"s","type":"nominal","scale":{"domain":["Эксперимент","Теория"],"range":[[1,0],[5,3]]},"legend":{"orient":"none","legendX":228,"legendY":-60,"title":null}}}},
 {"width":63,"height":66,"data":{"name":"p136_19"},"mark":"line","encoding":{"x":{"field":"t","type":"quantitative","scale":{"domain":[15,19],"nice":false,"zero":false},"axis":{"values":[15,16,17,18,19],"title":"UT"}},"y":{"field":"v","type":"quantitative","scale":{"domain":[-4.3,20],"nice":false,"zero":false},"axis":{"values":[0,10,20],"minExtent":26,"title":null}},"strokeDash":{"field":"s","type":"nominal","scale":{"domain":["Эксперимент","Теория"],"range":[[1,0],[5,3]]},"legend":{"orient":"none","legendX":228,"legendY":-60,"title":null}}}}
]},
{"spacing":21,"vconcat":[
 {"title":"20.10.1989 г.","width":63,"height":66,"data":{"name":"p102_20"},"mark":"line","encoding":{"x":{"field":"t","type":"quantitative","scale":{"domain":[15,19],"nice":false,"zero":false},"axis":{"values":[15,16,17,18,19],"title":null}},"y":{"field":"v","type":"quantitative","scale":{"domain":[-4.3,20],"nice":false,"zero":false},"axis":{"values":[0,10,20],"minExtent":17,"title":null}},"strokeDash":{"field":"s","type":"nominal","scale":{"domain":["Эксперимент","Теория"],"range":[[1,0],[5,3]]},"legend":{"orient":"none","legendX":228,"legendY":-60,"title":null}}}},
 {"width":63,"height":66,"data":{"name":"p121_20"},"mark":"line","encoding":{"x":{"field":"t","type":"quantitative","scale":{"domain":[15,19],"nice":false,"zero":false},"axis":{"values":[15,16,17,18,19],"title":null}},"y":{"field":"v","type":"quantitative","scale":{"domain":[-4.3,20],"nice":false,"zero":false},"axis":{"values":[0,10,20],"minExtent":17,"title":null}},"strokeDash":{"field":"s","type":"nominal","scale":{"domain":["Эксперимент","Теория"],"range":[[1,0],[5,3]]},"legend":{"orient":"none","legendX":228,"legendY":-60,"title":null}}}},
 {"width":63,"height":66,"data":{"name":"p136_20"},"mark":"line","encoding":{"x":{"field":"t","type":"quantitative","scale":{"domain":[15,19],"nice":false,"zero":false},"axis":{"values":[15,16,17,18,19],"title":"UT"}},"y":{"field":"v","type":"quantitative","scale":{"domain":[-4.3,20],"nice":false,"zero":false},"axis":{"values":[0,10,20],"minExtent":17,"title":null}},"strokeDash":{"field":"s","type":"nominal","scale":{"domain":["Эксперимент","Теория"],"range":[[1,0],[5,3]]},"legend":{"orient":"none","legendX":228,"legendY":-60,"title":null}}}}
]}
]
}
